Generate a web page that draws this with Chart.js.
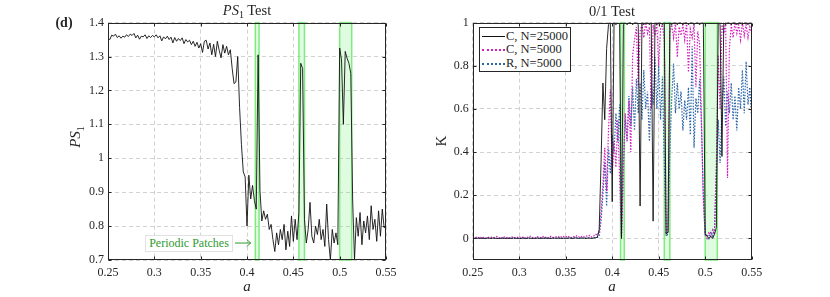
<!DOCTYPE html>
<html>
<head>
<meta charset="utf-8">
<script src="https://cdn.jsdelivr.net/npm/chart.js@4.4.1/dist/chart.umd.min.js"></script>
<style>
body { margin: 0; width: 830px; height: 297px; position: relative; background: #fff; overflow: hidden;
       font-family: "Liberation Serif", serif; color: #262626; }
canvas { position: absolute; top: 0; }
.t { position: absolute; white-space: nowrap; transform: translate(-50%, -50%); }
.rot { transform: translate(-50%, -50%) rotate(-90deg); }
.title { font-size: 14.5px; }
.lab { font-size: 15px; }
#legend { position: absolute; left: 479px; top: 27px; width: 92px; height: 45px; border: 1px solid #262626;
          background: #fff; font-size: 12.5px; box-sizing: border-box; padding-top: 1.5px; }
#legend .row { height: 13.7px; line-height: 13.7px; display: flex; align-items: center; }
#legend .smp { width: 23px; margin: 0 1px 0 2px; height: 0; }
#patchNote { position: absolute; left: 145px; top: 235px; width: 88px; height: 17px; box-sizing: border-box;
             border: 1px solid #e2e2e2; background: #fff; color: #2f9a2f; font-size: 12px; line-height: 15px; text-align: center; }
</style>
</head>
<body>
<canvas id="ps1Chart" width="415" height="297" style="left:0"></canvas>
<canvas id="kChart" width="415" height="297" style="left:415px"></canvas>

<div class="t" style="left:64px;top:23px;font-weight:bold;font-size:14px">(d)</div>
<div class="t title" style="left:247px;top:11px"><i>PS</i><sub style="font-size:10px">1</sub> Test</div>
<div class="t title" style="left:612px;top:11px">0/1 Test</div>
<div class="t lab rot" style="left:76px;top:137px"><i>PS</i><sub style="font-size:10px">1</sub></div>
<div class="t lab rot" style="left:441px;top:141px">K</div>
<div class="t lab" style="left:247px;top:286px"><i>a</i></div>
<div class="t lab" style="left:612px;top:286px"><i>a</i></div>
<div id="patchNote">Periodic Patches</div>
<div id="legend"></div>

<script>
// sampling of the parameter a (0.25 .. 0.55, every 0.002)
var aGrid = [];
for (var i = 0; i <= 150; i++) aGrid.push(+(0.25 + 0.002 * i).toFixed(3));

// left panel: PS1 test
var ps1 = [
  1.353,1.350,1.363,1.360,1.366,1.356,1.361,1.354,1.360,1.357,
  1.364,1.359,1.366,1.362,1.368,1.355,1.363,1.351,1.360,1.358,
  1.364,1.353,1.361,1.356,1.362,1.358,1.364,1.355,1.361,1.346,
  1.358,1.352,1.360,1.350,1.357,1.340,1.356,1.345,1.353,1.347,
  1.355,1.338,1.350,1.343,1.348,1.335,1.345,1.330,1.342,1.325,
  1.338,1.312,1.345,1.348,1.322,1.340,1.305,1.336,1.300,1.345,
  1.318,1.296,1.335,1.310,1.330,1.305,1.320,1.265,1.220,1.225,
  1.300,1.150,1.040,0.960,0.945,0.800,0.950,0.880,0.920,0.875,
  0.850,1.305,0.905,0.815,0.845,0.820,0.835,0.790,0.805,0.760,
  0.725,0.780,0.745,0.790,0.760,0.805,0.730,0.785,0.740,0.830,
  0.755,0.820,0.760,0.840,1.280,1.265,0.820,0.750,0.790,0.870,
  0.770,0.750,0.800,0.775,0.820,0.760,0.790,0.740,0.865,0.760,
  0.700,0.790,0.750,0.780,0.745,1.325,1.290,1.100,1.315,1.295,
  1.280,1.250,0.880,0.700,0.825,0.770,0.840,0.745,0.815,0.780,
  0.830,0.760,0.860,0.790,0.820,0.755,0.845,0.770,0.850,0.795,
  0.800];

// right panel: 0/1 test, K values
var kC25000 = [
  0.000,0.001,0.000,0.002,0.000,0.001,0.000,0.000,0.002,0.001,
  0.000,0.002,0.001,0.000,0.000,0.001,0.002,0.000,0.001,0.000,
  0.001,0.000,0.002,0.000,0.001,0.000,0.000,0.002,0.001,0.000,
  0.002,0.000,0.001,0.000,0.001,0.002,0.000,0.000,0.001,0.002,
  0.000,0.001,0.000,0.002,0.001,0.000,0.002,0.001,0.000,0.001,
  0.001,0.000,0.002,0.001,0.000,0.003,0.001,0.000,0.002,0.001,
  0.001,0.000,0.002,0.001,0.000,0.002,0.003,0.005,0.040,0.350,
  0.720,0.550,0.880,0.990,1.000,0.170,1.000,0.990,1.000,0.990,
  0.000,0.990,1.000,0.990,1.000,1.000,0.990,1.000,1.000,0.990,
  0.150,1.000,0.990,1.000,1.000,0.990,1.000,0.080,1.000,0.990,
  1.000,1.000,0.990,1.000,0.020,0.030,1.000,0.990,1.000,1.000,
  0.990,1.000,1.000,0.990,1.000,1.000,0.990,1.000,1.000,0.990,
  1.000,1.000,0.990,1.000,1.000,0.020,0.010,0.000,0.010,0.000,
  0.020,0.050,1.000,0.990,0.380,1.000,0.990,1.000,1.000,0.990,
  1.000,1.000,0.990,1.000,1.000,0.990,1.000,1.000,0.990,1.000,
  1.000];
var kC5000 = [
  0.004,0.000,0.006,0.002,0.008,0.001,0.005,0.000,0.007,0.003,
  0.006,0.001,0.004,0.009,0.002,0.005,0.000,0.007,0.003,0.006,
  0.002,0.008,0.001,0.005,0.004,0.009,0.002,0.006,0.000,0.007,
  0.004,0.010,0.003,0.006,0.001,0.008,0.005,0.002,0.009,0.004,
  0.007,0.002,0.010,0.005,0.003,0.008,0.006,0.011,0.004,0.009,
  0.005,0.012,0.007,0.003,0.010,0.006,0.013,0.008,0.004,0.011,
  0.007,0.012,0.009,0.015,0.006,0.010,0.020,0.015,0.030,0.120,
  0.250,0.420,0.220,0.500,0.690,0.300,0.450,0.330,0.550,0.270,
  0.000,0.300,0.580,0.450,0.640,0.400,0.850,0.920,0.980,0.700,
  0.960,0.990,0.930,1.000,0.950,0.980,0.600,0.990,0.940,0.990,
  0.800,0.970,0.990,0.920,0.020,0.030,0.950,0.990,0.930,1.000,
  0.840,0.980,0.940,0.990,0.920,1.000,0.770,0.970,0.930,0.990,
  0.700,0.960,0.900,0.550,0.170,0.020,0.000,0.030,0.010,0.040,
  0.020,0.350,0.850,0.600,0.990,0.950,1.000,0.280,0.880,0.990,
  0.930,1.000,0.950,0.990,0.920,1.000,0.940,0.990,0.930,0.980,
  0.950];
var kR5000 = [
  0.001,0.000,0.002,0.001,0.000,0.002,0.001,0.000,0.001,0.002,
  0.000,0.001,0.002,0.000,0.001,0.000,0.002,0.001,0.000,0.001,
  0.002,0.000,0.001,0.002,0.000,0.001,0.000,0.002,0.001,0.000,
  0.001,0.002,0.000,0.001,0.002,0.000,0.001,0.003,0.000,0.001,
  0.002,0.000,0.001,0.002,0.001,0.003,0.000,0.002,0.001,0.000,
  0.001,0.003,0.002,0.000,0.002,0.001,0.003,0.002,0.001,0.002,
  0.003,0.001,0.002,0.004,0.002,0.003,0.004,0.005,0.010,0.080,
  0.200,0.350,0.150,0.420,0.300,0.480,0.400,0.580,0.450,0.620,
  0.010,0.350,0.550,0.450,0.660,0.520,0.700,0.500,0.740,0.580,
  0.720,0.550,0.780,0.600,0.680,0.450,0.720,0.620,0.840,0.600,
  0.800,0.550,0.750,0.350,0.010,0.020,0.400,0.650,0.810,0.580,
  0.720,0.600,0.680,0.500,0.640,0.550,0.700,0.480,0.890,0.420,
  0.650,0.580,0.740,0.520,0.200,0.010,0.020,0.000,0.030,0.010,
  0.050,0.300,0.550,0.350,0.600,0.750,0.520,0.680,0.580,0.720,
  0.550,0.660,0.500,0.700,0.600,0.780,0.580,0.820,0.620,0.700,
  0.550];

var xTicks = [0.25, 0.3, 0.35, 0.4, 0.45, 0.5, 0.55];
var ps1Ticks = [0.7, 0.8, 0.9, 1, 1.1, 1.2, 1.3, 1.4];
var kTicks = [0, 0.2, 0.4, 0.6, 0.8, 1];

// periodic windows (green patches)
var patchFrom = [0.409, 0.456, 0.500];
var patchTo   = [0.413, 0.462, 0.513];

// "Periodic Patches ->" arrow, in data units of the left panel
var arrowFrom = [0.387, 0.75];
var arrowTo   = [0.404, 0.75];

var tickFont = { family: 'Liberation Serif', size: 12 };

function pts(ys) {
  return ys.map(function (y, i) { return { x: aGrid[i], y: y }; });
}
function fmt(v) { return String(+(+v).toFixed(2)); }

function decor(withArrow) {
  return {
    id: 'decor',
    beforeDatasetsDraw: function (chart) {
      var ctx = chart.ctx, ca = chart.chartArea, x = chart.scales.x;
      ctx.save();
      for (var i = 0; i < patchFrom.length; i++) {
        var x0 = x.getPixelForValue(patchFrom[i]), x1 = x.getPixelForValue(patchTo[i]);
        ctx.fillStyle = 'rgba(70,235,70,0.17)';
        ctx.fillRect(x0, ca.top, x1 - x0, ca.bottom - ca.top);
        ctx.strokeStyle = '#80ea80';
        ctx.lineWidth = 1.5;
        ctx.strokeRect(x0, ca.top, x1 - x0, ca.bottom - ca.top);
      }
      ctx.restore();
    },
    afterDatasetsDraw: function (chart) {
      var ctx = chart.ctx, ca = chart.chartArea, x = chart.scales.x, y = chart.scales.y;
      ctx.save();
      ctx.strokeStyle = '#262626';
      ctx.lineWidth = 1;
      var L = Math.round(ca.left) + 0.5, R = Math.round(ca.right) - 0.5;
      var T = Math.round(ca.top) + 0.5, B = Math.round(ca.bottom) - 0.5;
      ctx.strokeRect(L, T, R - L, B - T);
      ctx.beginPath();
      x.ticks.forEach(function (t) {
        var px = Math.round(x.getPixelForValue(t.value)) + 0.5;
        ctx.moveTo(px, B); ctx.lineTo(px, B - 3);
        ctx.moveTo(px, T); ctx.lineTo(px, T + 3);
      });
      y.ticks.forEach(function (t) {
        var py = Math.round(y.getPixelForValue(t.value)) + 0.5;
        ctx.moveTo(L, py); ctx.lineTo(L + 3, py);
        ctx.moveTo(R, py); ctx.lineTo(R - 3, py);
      });
      ctx.stroke();
      if (withArrow) {
        var ax0 = x.getPixelForValue(arrowFrom[0]), ax1 = x.getPixelForValue(arrowTo[0]);
        var ay = y.getPixelForValue(arrowFrom[1]);
        ctx.strokeStyle = '#2f9a2f';
        ctx.beginPath();
        ctx.moveTo(ax0, ay); ctx.lineTo(ax1, ay);
        ctx.moveTo(ax1 - 4, ay - 3.5); ctx.lineTo(ax1, ay); ctx.lineTo(ax1 - 4, ay + 3.5);
        ctx.stroke();
      }
      ctx.restore();
    }
  };
}

function panel(id, datasets, yMin, yMax, yTicks, yWidth, padRight, withArrow) {
  var grid = { color: '#c6c6c6', lineWidth: 0.8, drawTicks: false };
  var border = { display: false, dash: [4, 3] };
  return new Chart(document.getElementById(id), {
    type: 'line',
    data: { datasets: datasets },
    options: {
      responsive: false,
      animation: false,
      devicePixelRatio: 1,
      layout: { padding: { left: 0, right: padRight, top: 22.6, bottom: 0 } },
      plugins: { legend: { display: false }, tooltip: { enabled: false } },
      elements: { point: { radius: 0 }, line: { tension: 0 } },
      scales: {
        x: {
          type: 'linear', min: 0.25, max: 0.55,
          afterBuildTicks: function (s) { s.ticks = xTicks.map(function (v) { return { value: v }; }); },
          afterFit: function (s) { s.height = 37; },
          grid: grid, border: border,
          ticks: { padding: 6, color: '#262626', font: tickFont, autoSkip: false, maxRotation: 0, callback: fmt }
        },
        y: {
          min: yMin, max: yMax,
          afterBuildTicks: function (s) { s.ticks = yTicks.map(function (v) { return { value: v }; }); },
          afterFit: function (s) { s.width = yWidth; },
          grid: grid, border: border,
          ticks: { padding: 4, color: '#262626', font: tickFont, autoSkip: false, callback: fmt }
        }
      }
    },
    plugins: [decor(withArrow)]
  });
}

var leftChart = panel('ps1Chart', [
  { label: 'PS1', data: pts(ps1), borderColor: '#111111', borderWidth: 0.9 }
], 0.7, 1.4, ps1Ticks, 108, 29, true);

var kChart = panel('kChart', [
  { label: 'C, N=25000', data: pts(kC25000), borderColor: '#111111', borderWidth: 0.9, order: 1 },
  { label: 'C, N=5000', data: pts(kC5000), borderColor: '#d21fbe', borderWidth: 1.2, borderDash: [1.5, 1.5], order: 2 },
  { label: 'R, N=5000', data: pts(kR5000), borderColor: '#2a64a8', borderWidth: 1.2, borderDash: [1.5, 1.5], order: 3 }
], -0.1, 1, kTicks, 57.7, 78.3, false);

// legend built from the chart's own datasets
var legend = document.getElementById('legend');
kChart.data.datasets.forEach(function (ds) {
  var row = document.createElement('div');
  row.className = 'row';
  var smp = document.createElement('span');
  smp.className = 'smp';
  smp.style.borderTop = (ds.borderDash ? '2px dotted ' : '1px solid ') + ds.borderColor;
  var txt = document.createElement('span');
  txt.textContent = ds.label;
  row.appendChild(smp);
  row.appendChild(txt);
  legend.appendChild(row);
});
</script>
</body>
</html>
